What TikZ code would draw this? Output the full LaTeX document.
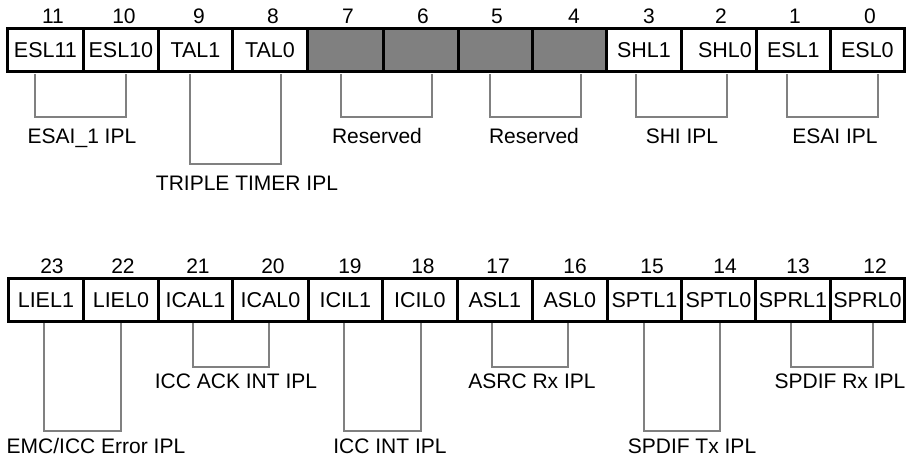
\documentclass[tikz,border=0pt]{standalone}
\usepackage{fontspec}
\setmainfont{Liberation Sans}
\begin{document}
\begin{tikzpicture}[x=1pt,y=-1pt,
  cellbox/.style={draw=black, line width=2.8pt, minimum height=43pt, inner sep=0pt,
    text height=15.5pt, text depth=0pt, anchor=north west,
    font=\fontsize{21.5}{24}\selectfont},
  resv/.style={fill=black!50},
  bitnum/.style={anchor=base, inner sep=0pt, font=\fontsize{21}{24}\selectfont},
  lbl/.style={anchor=base, inner sep=0pt, font=\fontsize{21}{24}\selectfont},
  brk/.style={draw=black!50, line width=1.3pt}
]
\useasboundingbox (0,0) rectangle (906,456);
% top row cells
\foreach \nm/\l/\r/\t/\st in {c11/6/82/ESL11/, c10/82/157/ESL10/, c9/157/231/TAL1/, c8/231/306/TAL0/,
    c7/306/382//resv, c6/382/457//resv, c5/457/531//resv, c4/531/605//resv,
    c3/605/680/SHL1/, c2/680/755/{\hspace*{12pt}SHL0}/, c1/755/829/ESL1/, c0/829/903/ESL0/}
  \node[cellbox,\st,minimum width={(\r-\l)*1pt}] (\nm) at (\l,27) {\t};
% bottom row cells
\foreach \nm/\l/\r/\t in {c23/7/82/LIEL1, c22/82/157/LIEL0, c21/157/231/ICAL1, c20/231/307/ICAL0,
    c19/307/381/ICIL1, c18/381/456/ICIL0, c17/456/531/ASL1, c16/531/606/ASL0,
    c15/606/680/SPTL1, c14/680/754/SPTL0, c13/754/829/SPRL1, c12/829/903/SPRL0}
  \node[cellbox,minimum width={(\r-\l)*1pt}] (\nm) at (\l,277) {\t};
% bit numbers
\foreach \n/\x in {11/53,10/124,9/199,8/273,7/348,6/423,5/497,4/574,3/649,2/721,1/795,0/870}
  \node[bitnum] (n\n) at (\x,23) {\n};
\foreach \n/\x in {23/52,22/123,21/198,20/273,19/350,18/423,17/498,16/575,15/652,14/725,13/798,12/875}
  \node[bitnum] (n\n) at (\x,273) {\n};
% top brackets and labels
\foreach \a/\b/\y/\c/\by/\t/\nm in {35/126/117/82/143/{ESAI\_1 IPL}/l1, 190/281/164/247/190/{TRIPLE TIMER IPL}/l2,
    341/432/117/377/143/Reserved/l3, 490/581/117/534/143/Reserved/l4,
    636/727/117/682/143/{SHI IPL}/l5, 787/878/117/835/143/{ESAI IPL}/l6}
{
  \draw[brk] (\a,74) -- (\a,\y) -- (\b,\y) -- (\b,74);
  \node[lbl] (\nm) at (\c,\by) {\t};
}
% bottom brackets and labels
\foreach \a/\b/\y/\c/\by/\t/\nm in {44/121/431/96/453/{EMC/ICC Error IPL}/m1, 193/269/367/236/388/{ICC ACK INT IPL}/m2,
    344/421/431/390/453/{ICC INT IPL}/m3, 492/568/367/532/388/{ASRC Rx IPL}/m4,
    644/720/431/692/453/{SPDIF Tx IPL}/m5, 791/873/367/840/388/{SPDIF Rx IPL}/m6}
{
  \draw[brk] (\a,323) -- (\a,\y) -- (\b,\y) -- (\b,323);
  \node[lbl] (\nm) at (\c,\by) {\t};
}
\end{tikzpicture}
\end{document}
